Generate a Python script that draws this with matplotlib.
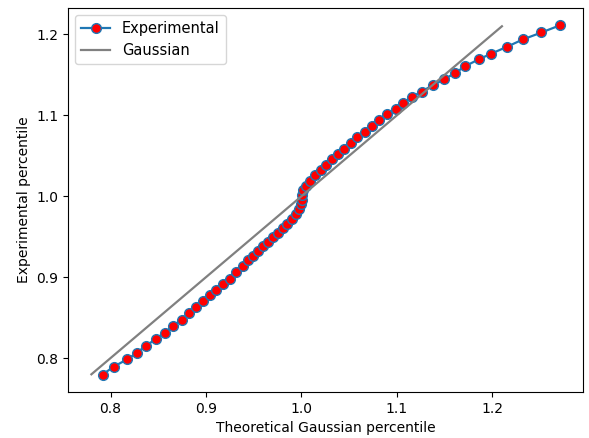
import matplotlib
matplotlib.use("Agg")
import matplotlib.pyplot as plt

# theoretical vs experimental percentiles
theo = [0.7917, 0.8034, 0.8175, 0.8274, 0.8370, 0.8474, 0.8566, 0.8654, 0.8746, 0.8821,
        0.8899, 0.8967, 0.9040, 0.9110, 0.9180, 0.9248, 0.9316, 0.9383, 0.9444, 0.9496,
        0.9548, 0.9600, 0.9649, 0.9701, 0.9753, 0.9805, 0.9850, 0.9902, 0.9944, 0.9979,
        1.0000, 1.0006, 1.0003, 1.0017, 1.0050, 1.0094, 1.0146, 1.0201, 1.0253, 1.0316,
        1.0378, 1.0446, 1.0514, 1.0586, 1.0665, 1.0743, 1.0816, 1.0899, 1.0988, 1.1066,
        1.1159, 1.1258, 1.1378, 1.1493, 1.1604, 1.1717, 1.1857, 1.1985, 1.2152, 1.2319,
        1.2514, 1.2704]
expe = [0.7797, 0.7895, 0.7985, 0.8064, 0.8151, 0.8236, 0.8314, 0.8397, 0.8477, 0.8554,
        0.8628, 0.8700, 0.8776, 0.8846, 0.8920, 0.8979, 0.9059, 0.9135, 0.9211, 0.9265,
        0.9321, 0.9383, 0.9432, 0.9499, 0.9548, 0.9610, 0.9663, 0.9724, 0.9786, 0.9844,
        0.9900, 0.9958, 1.0020, 1.0081, 1.0131, 1.0192, 1.0262, 1.0328, 1.0389, 1.0457,
        1.0518, 1.0586, 1.0660, 1.0728, 1.0796, 1.0863, 1.0937, 1.1011, 1.1079, 1.1153,
        1.1227, 1.1294, 1.1372, 1.1443, 1.1518, 1.1608, 1.1691, 1.1760, 1.1846, 1.1937,
        1.2023, 1.2110]

# reference line y = x
gauss = [0.78, 1.21]

fig = plt.figure(figsize=(5.89, 4.38), dpi=100)
fig.subplots_adjust(left=68/589, right=583/589, bottom=1-392/438, top=1-8/438)
ax = fig.add_subplot(111)

ax.plot(theo, expe, '-o', color='#1f77b4', markerfacecolor='red',
        markeredgecolor='#1f77b4', markersize=7, linewidth=1.6, label='Experimental')
ax.plot(gauss, gauss, color='grey', linewidth=1.6, label='Gaussian')

ax.set_xlabel('Theoretical Gaussian percentile')
ax.set_ylabel('Experimental percentile')
ax.legend(loc='upper left', fontsize=10.5)

fig.savefig('out.png', dpi=100)
